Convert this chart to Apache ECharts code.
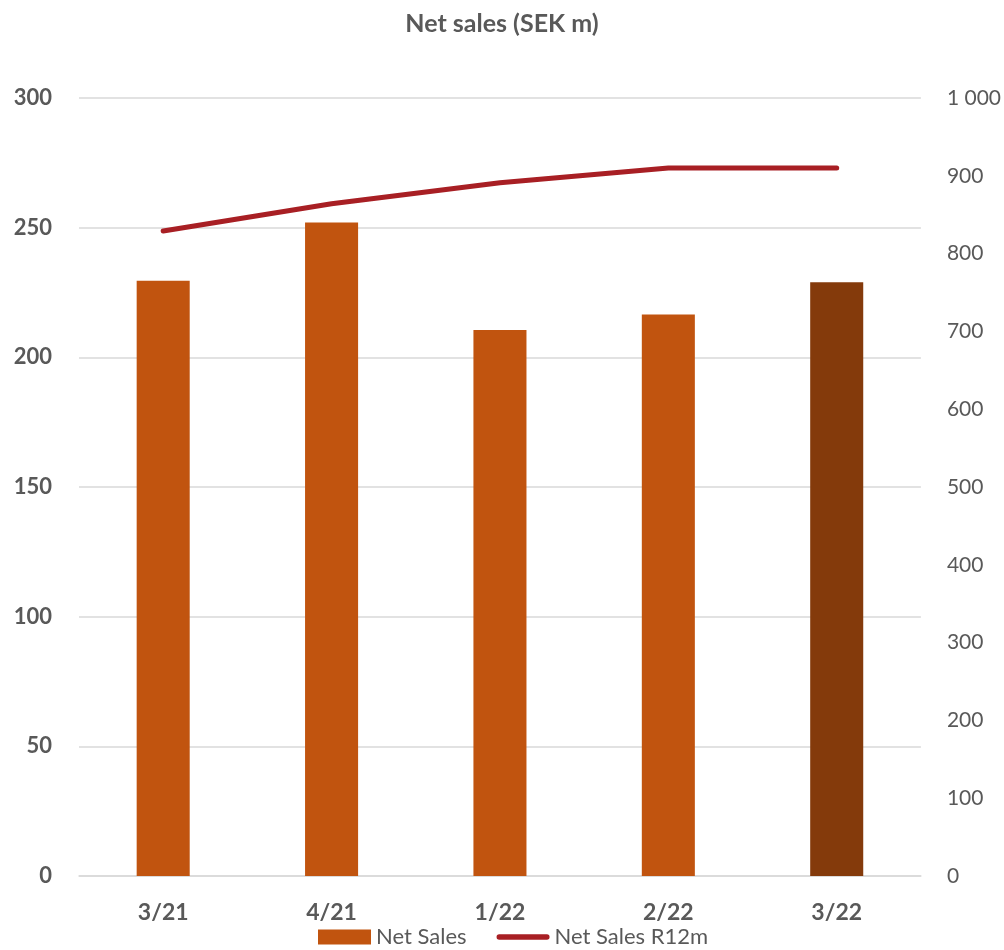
<!DOCTYPE html>
<html><head><meta charset="utf-8">
<script src="https://cdn.jsdelivr.net/npm/echarts@6/dist/echarts.min.js"></script>
<style>html,body{margin:0;padding:0;background:#fff}#c{width:1004px;height:950px}</style>
</head><body><div id="c"></div>
<script>
const categories = ['3/21', '4/21', '1/22', '2/22', '3/22'];
const netSales = [229.5, 252, 210.5, 216.5, 229];
const netSalesR12m = [829, 864, 891, 910, 910];
const leftTicks = [0, 50, 100, 150, 200, 250, 300];
const rightTicks = [0, 100, 200, 300, 400, 500, 600, 700, 800, 900, 1000];

const FONT = 'Lato, "Open Sans", "Noto Sans", sans-serif';
const barColor = '#C1540F';
const barHighlight = '#843A0B';
const lineColor = '#A81F24';
const textColor = '#595959';

const chart = echarts.init(document.getElementById('c'), null, {renderer: 'canvas'});
chart.setOption({
  animation: false,
  backgroundColor: '#fff',
  title: {
    text: 'Net sales (SEK m)', left: 'center', top: 6,
    textStyle: {fontFamily: FONT, fontSize: 25, fontWeight: 'bold', color: textColor}
  },
  grid: {left: 79, right: 81, top: 98, bottom: 74, containLabel: false},
  legend: {
    top: 926, left: 318, itemGap: 30, itemWidth: 53, itemHeight: 15, padding: 0,
    textStyle: {fontFamily: FONT, fontSize: 22, color: textColor},
    data: [
      {name: 'Net Sales', icon: 'rect', itemStyle: {color: barColor}},
      {name: 'Net Sales R12m', icon: 'path://M3,0 L57,0 A3,3 0 0 1 57,6 L3,6 A3,3 0 0 1 3,0 Z', itemStyle: {color: lineColor}}
    ]
  },
  xAxis: {
    type: 'category', data: categories,
    axisTick: {show: false},
    axisLine: {lineStyle: {color: '#D9D9D9', width: 1.5}},
    axisLabel: {fontFamily: FONT, fontSize: 23, fontWeight: 'bold', color: textColor, margin: 25}
  },
  yAxis: [
    {
      type: 'value', min: leftTicks[0], max: leftTicks[leftTicks.length - 1], interval: 50,
      axisLine: {show: false}, axisTick: {show: false},
      splitLine: {lineStyle: {color: '#D9D9D9', width: 1.5}},
      axisLabel: {fontFamily: FONT, fontSize: 22, fontWeight: 'bold', color: textColor, margin: 27, align: 'right'}
    },
    {
      type: 'value', min: rightTicks[0], max: rightTicks[rightTicks.length - 1], interval: 100,
      axisLine: {show: false}, axisTick: {show: false}, splitLine: {show: false},
      axisLabel: {fontFamily: FONT, fontSize: 21, color: textColor, margin: 26,
        formatter: v => String(v).replace(/\B(?=(\d{3})+(?!\d))/g, ' ')}
    }
  ],
  series: [
    {
      name: 'Net Sales', type: 'bar', yAxisIndex: 0, barWidth: '31.5%',
      data: netSales.map((v, i) => ({value: v, itemStyle: {color: i === netSales.length - 1 ? barHighlight : barColor}})),
      itemStyle: {color: barColor}
    },
    {
      name: 'Net Sales R12m', type: 'line', yAxisIndex: 1, data: netSalesR12m,
      symbol: 'none', smooth: false,
      lineStyle: {color: lineColor, width: 5, cap: 'round', join: 'round'},
      itemStyle: {color: lineColor}
    }
  ]
});
</script></body></html>
